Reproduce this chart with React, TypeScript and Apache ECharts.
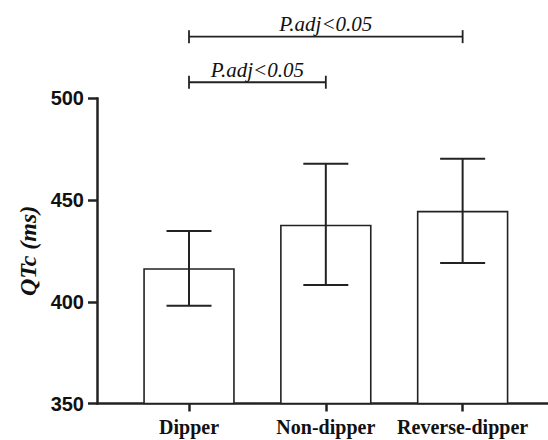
import React, { useEffect, useRef } from "react";
import * as echarts from "echarts";

const categories = ["Dipper", "Non-dipper", "Reverse-dipper"];
const means = [416.5, 437.9, 444.7];
const errLow = [398.0, 408.3, 419.1];
const errHigh = [434.8, 467.8, 470.3];
const yTicks = [350, 400, 450, 500];
// significance brackets: [fromIndex, toIndex, yLevel, label]
const brackets: [number, number, number, string][] = [
  [0, 2, 530.3, "P.adj<0.05"],
  [0, 1, 507.9, "P.adj<0.05"],
];

const INK = "#222";

export default function App() {
  const ref = useRef<HTMLDivElement>(null);
  useEffect(() => {
    if (!ref.current) return;
    const chart = echarts.init(ref.current, undefined, { renderer: "svg" });
    chart.setOption({
      animation: false,
      grid: { left: 97, right: 0, top: 98.3, bottom: 36.5 },
      xAxis: {
        type: "value",
        min: -0.6725,
        max: 2.624,
        splitLine: { show: false },
        axisLine: { show: true, onZero: false, lineStyle: { color: INK, width: 2.5 } },
        axisTick: {
          show: true,
          length: 8,
          customValues: [0, 1, 2],
          lineStyle: { color: INK, width: 2.5 },
        },
        axisLabel: {
          customValues: [0, 1, 2],
          formatter: (v: number) => categories[Math.round(v)] ?? "",
          margin: 13,
          color: "#111",
          fontFamily: '"Liberation Serif", "Times New Roman", serif',
          fontWeight: "bold",
          fontSize: 20,
        },
      },
      yAxis: {
        type: "value",
        min: yTicks[0],
        max: yTicks[yTicks.length - 1],
        interval: 50,
        name: "QTc (ms)",
        nameLocation: "middle",
        nameRotate: 90,
        nameGap: 57,
        nameTextStyle: {
          color: "#111",
          fontFamily: '"Liberation Serif", "Times New Roman", serif',
          fontWeight: "bold",
          fontStyle: "italic",
          fontSize: 24,
        },
        splitLine: { show: false },
        axisLine: { show: true, onZero: false, lineStyle: { color: INK, width: 2.5 } },
        axisTick: { show: true, length: 9, lineStyle: { color: INK, width: 2.5 } },
        axisLabel: {
          margin: 13,
          color: "#111",
          fontFamily: '"Liberation Sans", Arial, sans-serif',
          fontWeight: "bold",
          fontSize: 20,
        },
      },
      series: [
        {
          type: "bar",
          data: means.map((m, i) => [i, m]),
          barWidth: 91.5,
          itemStyle: { color: "#fff", borderColor: INK, borderWidth: 1.6 },
          z: 1,
        },
        {
          type: "custom",
          data: means.map((_, i) => [i, errLow[i], errHigh[i]]),
          encode: { x: 0, y: [1, 2] },
          z: 3,
          renderItem: (params: any, api: any) => {
            const x = api.value(0);
            const lo = api.coord([x, api.value(1)]);
            const hi = api.coord([x, api.value(2)]);
            const hw = 22.5;
            const style = { stroke: INK, lineWidth: 2 };
            return {
              type: "group",
              children: [
                { type: "line", shape: { x1: lo[0], y1: lo[1], x2: hi[0], y2: hi[1] }, style },
                { type: "line", shape: { x1: lo[0] - hw, y1: lo[1], x2: lo[0] + hw, y2: lo[1] }, style },
                { type: "line", shape: { x1: hi[0] - hw, y1: hi[1], x2: hi[0] + hw, y2: hi[1] }, style },
              ],
            };
          },
        },
        {
          type: "custom",
          clip: false,
          data: brackets.map((b) => [b[0], b[1], b[2], b[3]]),
          encode: { x: [0, 1], y: 2 },
          z: 3,
          renderItem: (params: any, api: any) => {
            const idx = params.dataIndex;
            const b = brackets[idx];
            const p1 = api.coord([b[0], b[2]]);
            const p2 = api.coord([b[1], b[2]]);
            const style = { stroke: INK, lineWidth: 1.8 };
            const t = 6.5;
            return {
              type: "group",
              children: [
                { type: "line", shape: { x1: p1[0], y1: p1[1], x2: p2[0], y2: p2[1] }, style },
                { type: "line", shape: { x1: p1[0], y1: p1[1] - t, x2: p1[0], y2: p1[1] + t }, style },
                { type: "line", shape: { x1: p2[0], y1: p2[1] - t, x2: p2[0], y2: p2[1] + t }, style },
                {
                  type: "text",
                  style: {
                    text: b[3],
                    x: (p1[0] + p2[0]) / 2,
                    y: p1[1] - 2,
                    textAlign: "center",
                    textVerticalAlign: "bottom",
                    align: "center",
                    verticalAlign: "bottom",
                    font: 'italic 21px "Liberation Serif", "Times New Roman", serif',
                    fill: "#111",
                  },
                },
              ],
            };
          },
        },
      ],
    });
    return () => chart.dispose();
  }, []);
  return (
    <div style={{ position: "fixed", left: 0, top: 0, width: 548, height: 440, background: "#fff" }}>
      <div ref={ref} style={{ width: 548, height: 440 }} />
    </div>
  );
}
